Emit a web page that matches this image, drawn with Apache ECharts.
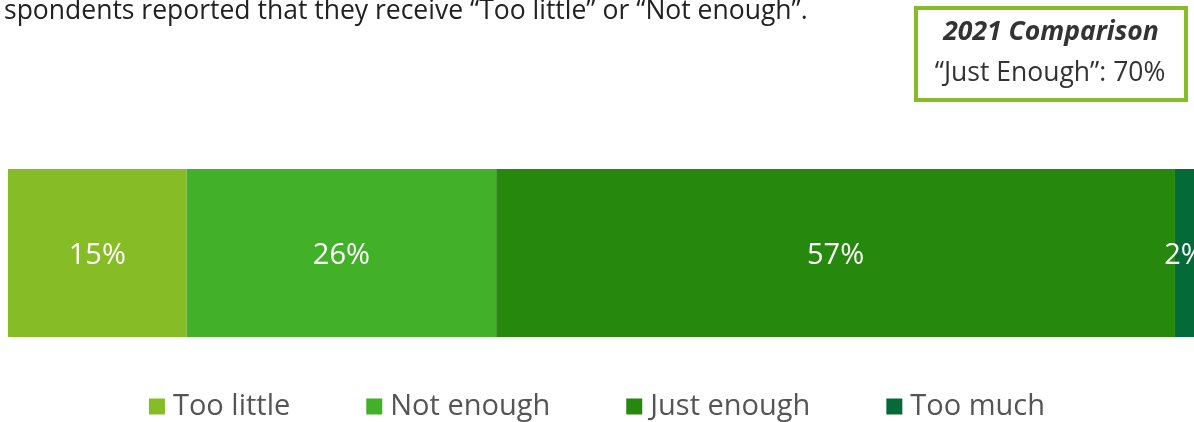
<!DOCTYPE html>
<html>
<head>
<meta charset="utf-8">
<script src="https://cdn.jsdelivr.net/npm/echarts@6/dist/echarts.min.js"></script>
<style>html,body{margin:0;padding:0;background:#fff;}#c{width:1194px;height:422px;}</style>
</head>
<body>
<div id="c"></div>
<script>
const categories = ['Responses'];
const seriesNames = ['Too little', 'Not enough', 'Just enough', 'Too much'];
const seriesValues = [[15], [26], [57], [2]];
const colors = ['#86bc25', '#43b02a', '#26890d', '#046a38'];
const headline = 'spondents reported that they receive \u201cToo little\u201d or \u201cNot enough\u201d.';
const boxTitle = '2021 Comparison';
const boxText = '\u201cJust Enough\u201d: 70%';

const chart = echarts.init(document.getElementById('c'), null, {renderer: 'canvas'});
const font = '"Open Sans", "Noto Sans", sans-serif';
chart.setOption({
  animation: false,
  color: colors,
  textStyle: {fontFamily: font},
  grid: {left: 8, top: 169, height: 168, right: 0, containLabel: false},
  // the bar runs slightly past the right edge of the picture
  xAxis: {type: 'value', min: 0, max: 99.6, show: false},
  yAxis: {type: 'category', data: categories, show: false},
  legend: {
    top: 387, left: 'center',
    itemWidth: 16, itemHeight: 16, itemGap: 76, icon: 'rect',
    textStyle: {fontSize: 29, color: '#555', fontFamily: font, padding: [0, 0, 0, 3]},
    data: seriesNames
  },
  series: seriesNames.map((n, i) => ({
    name: n, type: 'bar', stack: 'all', barWidth: 168,
    data: seriesValues[i],
    itemStyle: {color: colors[i]},
    label: {show: true, position: 'inside', offset: [0, 3], formatter: '{c}%', color: '#fff', fontSize: 29, fontFamily: font}
  })),
  graphic: [
    {type: 'text', left: 4, top: -2, style: {text: headline, fontSize: 26.5, fill: '#222', fontFamily: font}},
    {type: 'rect', shape: {x: 916, y: 8, width: 270, height: 92}, style: {fill: '#fff', stroke: '#86bc25', lineWidth: 4}},
    {type: 'text', x: 1051, y: 32, style: {text: boxTitle, fontSize: 26.5, fontWeight: 'bold', fontStyle: 'italic', fill: '#333', fontFamily: font, align: 'center', verticalAlign: 'middle'}},
    {type: 'text', x: 1050, y: 73, style: {text: boxText, fontSize: 26.5, fill: '#333', fontFamily: font, align: 'center', verticalAlign: 'middle'}}
  ]
});
</script>
</body>
</html>
